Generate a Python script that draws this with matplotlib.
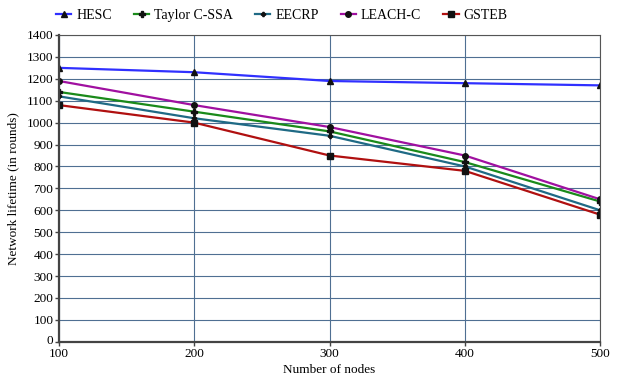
import matplotlib.pyplot as plt
import matplotlib.transforms as mtransforms

# valori
nodes = [100, 200, 300, 400, 500]
hesc = [1250, 1230, 1190, 1180, 1170]
taylor = [1140, 1050, 960, 820, 640]
eecrp = [1120, 1020, 940, 800, 600]
leach = [1190, 1080, 980, 850, 650]
gsteb = [1080, 1000, 850, 780, 580]

plt.rcParams['font.family'] = ['Liberation Serif', 'DejaVu Serif']
plt.rcParams['font.size'] = 9.5

fig = plt.figure(figsize=(6.2, 3.76), dpi=100)
ax = fig.add_axes([0.095, 0.091, 0.873, 0.816])

series = [
    ('HESC', hesc, '#3030ff', '^', 4),
    ('Taylor C-SSA', taylor, '#1a8a1a', 'P', 4),
    ('EECRP', eecrp, '#1f6a85', 'P', 3),
    ('LEACH-C', leach, '#a010a0', 'o', 4),
    ('GSTEB', gsteb, '#b01010', 's', 4),
]
for name, vals, col, mk, ms in series:
    ax.plot(nodes, vals, color=col, lw=1.6, marker=mk, markersize=ms,
            markerfacecolor='#111111', markeredgecolor='#111111', label=name)

ax.set_xlim(100, 500)
ax.set_ylim(0, 1400)
ax.set_xticks(nodes)
ax.set_yticks(range(0, 1401, 100))
ax.grid(True, color='#4f6f92', lw=0.8)
ax.set_axisbelow(True)
for s in ['top', 'right']:
    ax.spines[s].set_color('#555555')
    ax.spines[s].set_linewidth(0.8)
for s in ['left', 'bottom']:
    ax.spines[s].set_color('#444444')
    ax.spines[s].set_linewidth(1.6)
ax.tick_params(length=3, width=1, color='#444444', pad=1)
ax.tick_params(axis='x', pad=1.5)

# sposto un po' in su l'etichetta "0" per non toccare "100"
fig.canvas.draw()
lab0 = ax.get_yticklabels()[0]
lab0.set_transform(lab0.get_transform() + mtransforms.ScaledTranslation(0, 2 / 72, fig.dpi_scale_trans))

ax.set_xlabel('Number of nodes', labelpad=3)
ax.set_ylabel('Network lifetime (in rounds)', labelpad=5)

fig.legend(loc='upper left', bbox_to_anchor=(0.07, 1.01), ncol=5, frameon=False,
           fontsize=10, handlelength=1.1, columnspacing=1.6, handletextpad=0.35)

fig.savefig('out.png', dpi=100)
